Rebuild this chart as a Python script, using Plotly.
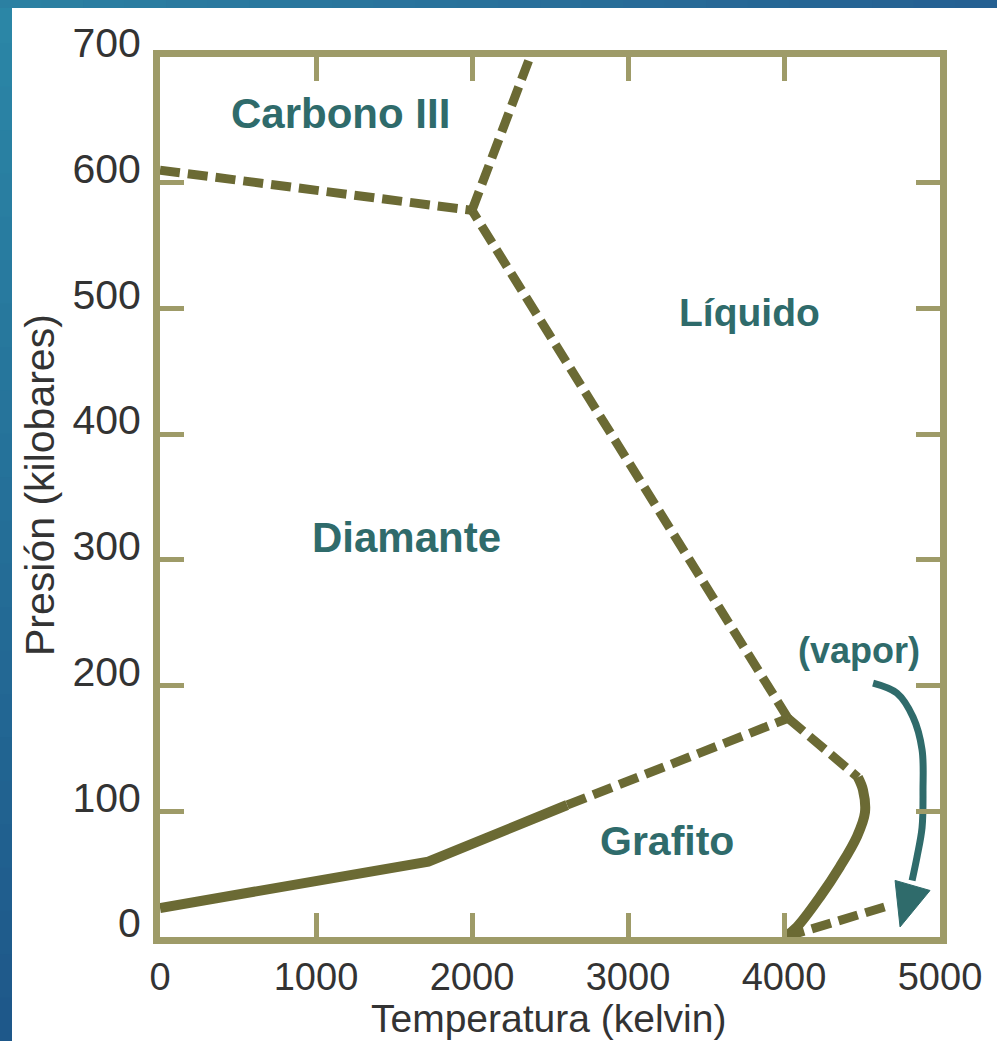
import plotly.graph_objects as go

# ---- data (temperature in kelvin, pressure in kilobares) ----
gd_solid_T = [0, 1720, 2610]
gd_solid_P = [23, 60, 105]
gd_dash_T = [2610, 4026]
gd_dash_P = [105, 174]
dl_T = [4026, 2000]
dl_P = [174, 578]
c3d_T = [0, 2000]
c3d_P = [610, 578]
c3l_T = [2000, 2372]
c3l_P = [578, 700]
gl_dash_T = [4026, 4474]
gl_dash_P = [174, 127]
gl_solid_T = [4474, 4506, 4519, 4468, 4359, 4231, 4083, 4006]
gl_solid_P = [127, 117, 99, 80, 56, 32, 8, 0]
gv_T = [4006, 4647]
gv_P = [0, 24]
arrow_T = [4571, 4724, 4827, 4885, 4891, 4885, 4853, 4821]
arrow_P = [202, 194, 175, 149, 117, 87, 64, 45]
head_T = [4712, 4936, 4744, 4712]
head_P = [45, 37, 8, 45]

region_labels = ["Carbono III", "Líquido", "Diamante", "Grafito", "(vapor)"]
region_T = [1160, 3776, 1577, 3250, 4481]
region_P = [655, 497, 318, 76, 228]
region_size = [42, 39, 42, 41, 36]

x_ticks = [0, 1000, 2000, 3000, 4000, 5000]
y_ticks = [0, 100, 200, 300, 400, 500, 600, 700]
x_title = "Temperatura (kelvin)"
y_title = "Presión (kilobares)"

LINE = "#6b6a34"
FRAME = "#9e9b68"
TEAL = "#2f6b6b"
TXT = "#333333"
FONT = "Liberation Sans, Arial"
DASH = "20px,8px"

fig = go.Figure()

def add_line(T, P, dash=None, width=9, shape="linear"):
    fig.add_trace(go.Scatter(x=T, y=P, mode="lines",
                             line=dict(color=LINE, width=width, dash=dash, shape=shape),
                             hoverinfo="skip", showlegend=False))

add_line(gd_solid_T, gd_solid_P, width=10)
add_line(gd_dash_T, gd_dash_P, dash=DASH)
add_line(dl_T, dl_P, dash=DASH)
add_line(c3d_T, c3d_P, dash=DASH)
add_line(c3l_T, c3l_P, dash=DASH)
add_line(gl_dash_T, gl_dash_P, dash=DASH)
add_line(gl_solid_T, gl_solid_P, width=10, shape="spline")
add_line(gv_T, gv_P, dash=DASH)

fig.add_trace(go.Scatter(x=arrow_T, y=arrow_P, mode="lines",
                         line=dict(color=TEAL, width=7, shape="spline"),
                         hoverinfo="skip", showlegend=False))
fig.add_trace(go.Scatter(x=head_T, y=head_P, mode="lines", fill="toself",
                         fillcolor=TEAL, line=dict(color=TEAL, width=1),
                         hoverinfo="skip", showlegend=False))

for txt, t, p, s in zip(region_labels, region_T, region_P, region_size):
    fig.add_annotation(x=t, y=p, text=txt, showarrow=False,
                       font=dict(family=FONT, size=s, color=TEAL, weight="bold"),
                       xanchor="center", yanchor="middle")

# final page geometry
L, R, T_, B = 160, 57, 57, 104
W, H = 997, 1041
pw, ph = W - L - R, H - T_ - B

def px2paper_x(px):
    return (px - L) / pw

def py2paper_y(py):
    return (H - B - py) / ph

# axis titles as positioned annotations
fig.add_annotation(xref="paper", yref="paper", x=px2paper_x(548), y=py2paper_y(1018),
                   text=x_title, showarrow=False, xanchor="center", yanchor="middle",
                   font=dict(family=FONT, size=39, color=TXT))
fig.add_annotation(xref="paper", yref="paper", x=px2paper_x(40), y=py2paper_y(485),
                   text=y_title, showarrow=False, xanchor="center", yanchor="middle",
                   textangle=-90, font=dict(family=FONT, size=41, color=TXT))

def mix(c1, c2, f):
    return "rgb(%d,%d,%d)" % tuple(round(a + (b - a) * f) for a, b in zip(c1, c2))

# blue gradient border (left and top strips)
n = 24
top_c, bot_c = (43, 134, 166), (30, 88, 138)
for i in range(n):
    y0 = H * i / n
    y1 = H * (i + 1) / n + 1
    fig.add_shape(type="rect", xref="paper", yref="paper",
                  x0=px2paper_x(-2), x1=px2paper_x(12), y0=py2paper_y(y1), y1=py2paper_y(y0),
                  fillcolor=mix(top_c, bot_c, i / (n - 1)), line_width=0, layer="below")
left_c, right_c = (43, 128, 162), (37, 96, 146)
for i in range(n):
    x0 = W * i / n
    x1 = W * (i + 1) / n + 1
    fig.add_shape(type="rect", xref="paper", yref="paper",
                  x0=px2paper_x(x0), x1=px2paper_x(x1), y0=py2paper_y(8), y1=py2paper_y(-2),
                  fillcolor=mix(left_c, right_c, i / (n - 1)), line_width=0, layer="below")

axis_common = dict(showline=True, linecolor=FRAME, linewidth=7, mirror="ticks",
                   ticks="inside", ticklen=24, tickwidth=5, tickcolor=FRAME,
                   showgrid=False, zeroline=False)

fig.update_layout(
    width=W - 16, height=H - 16, autosize=False,
    margin=dict(l=L, r=R, t=T_, b=B),
    paper_bgcolor="white", plot_bgcolor="white",
    xaxis=dict(range=[0, 5000], tickvals=x_ticks, ticktext=[str(v) for v in x_ticks],
               ticklabelstandoff=0,
               tickfont=dict(family=FONT, size=38, color=TXT),
               **axis_common),
    yaxis=dict(range=[0, 700], tickvals=y_ticks, ticktext=[str(v) for v in y_ticks],
               ticklabelstandoff=4, ticklabelshift=-14,
               tickfont=dict(family=FONT, size=41, color=TXT),
               **axis_common),
    showlegend=False,
)

post = ("document.documentElement.style.overflow='hidden';"
        "document.body.style.margin='0';document.body.style.overflow='hidden';"
        "var gd=document.getElementById('{plot_id}');"
        "gd.style.width='%dpx';gd.style.height='%dpx';"
        "Plotly.relayout(gd,{width:%d,height:%d});" % (W, H, W, H))

fig.write_html("out.html", config={"displayModeBar": False}, post_script=post)
